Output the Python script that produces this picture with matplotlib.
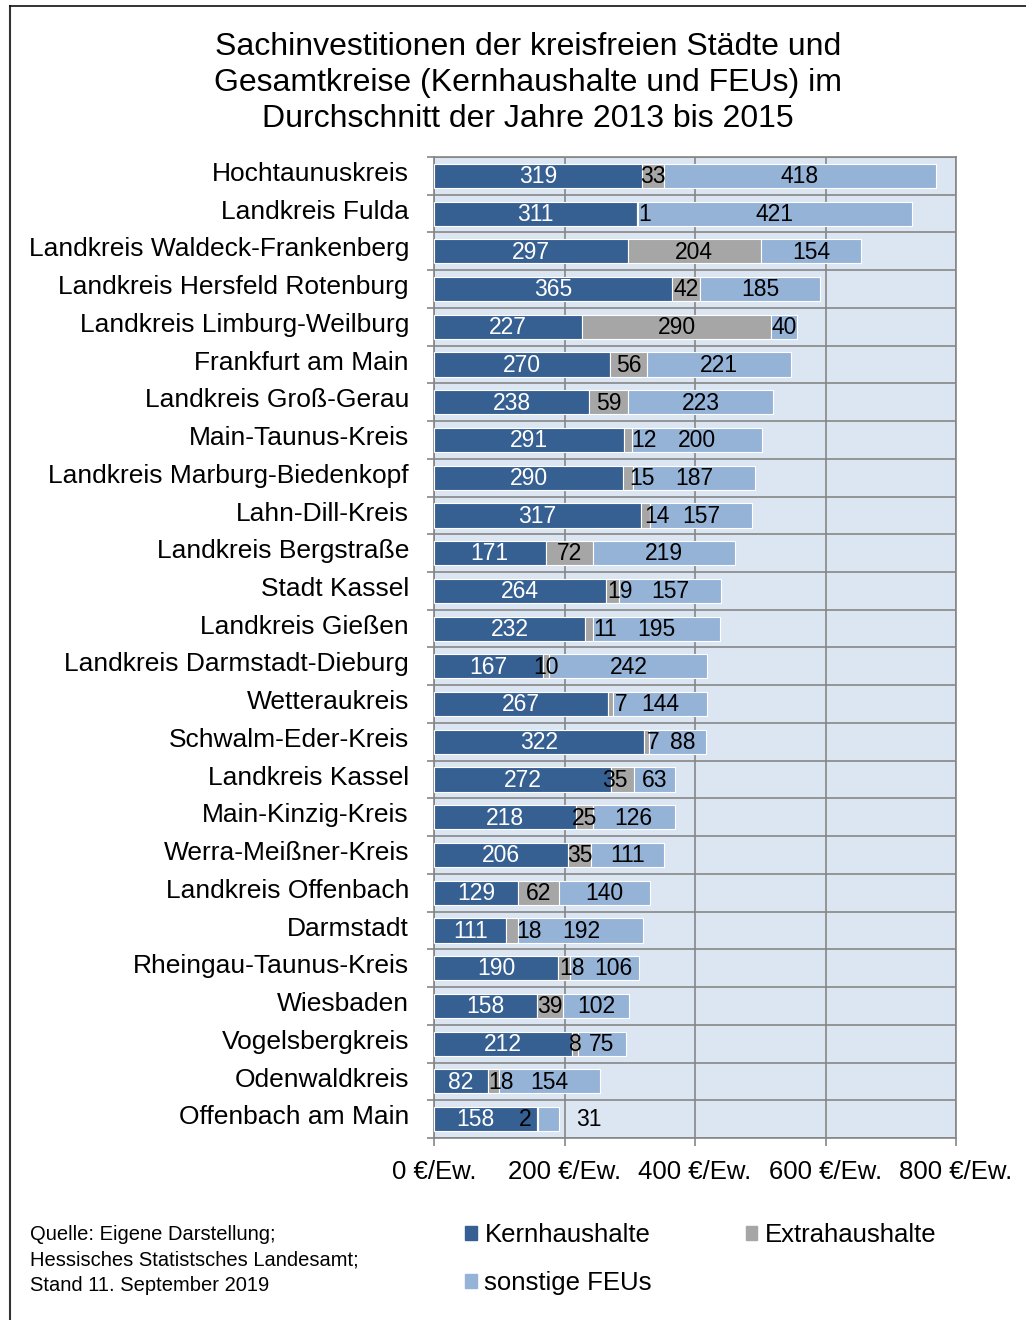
import numpy as np
import matplotlib
matplotlib.use('Agg')
import matplotlib.pyplot as plt
import matplotlib.transforms as mtransforms
from matplotlib.patches import Patch
from matplotlib.lines import Line2D

plt.rcParams['font.family'] = ['Liberation Sans', 'DejaVu Sans']

# Daten (Euro je Einwohner, Durchschnitt 2013-2015)
kreise = ['Hochtaunuskreis', 'Landkreis Fulda', 'Landkreis Waldeck-Frankenberg',
          'Landkreis Hersfeld Rotenburg', 'Landkreis Limburg-Weilburg', 'Frankfurt am Main',
          'Landkreis Groß-Gerau', 'Main-Taunus-Kreis', 'Landkreis Marburg-Biedenkopf',
          'Lahn-Dill-Kreis', 'Landkreis Bergstraße', 'Stadt Kassel', 'Landkreis Gießen',
          'Landkreis Darmstadt-Dieburg', 'Wetteraukreis', 'Schwalm-Eder-Kreis',
          'Landkreis Kassel', 'Main-Kinzig-Kreis', 'Werra-Meißner-Kreis',
          'Landkreis Offenbach', 'Darmstadt', 'Rheingau-Taunus-Kreis', 'Wiesbaden',
          'Vogelsbergkreis', 'Odenwaldkreis', 'Offenbach am Main']
kern = [319, 311, 297, 365, 227, 270, 238, 291, 290, 317, 171, 264, 232,
        167, 267, 322, 272, 218, 206, 129, 111, 190, 158, 212, 82, 158]
extra = [33, 1, 204, 42, 290, 56, 59, 12, 15, 14, 72, 19, 11,
         10, 7, 7, 35, 25, 35, 62, 18, 18, 39, 8, 18, 2]
sonst = [418, 421, 154, 185, 40, 221, 223, 200, 187, 157, 219, 157, 195,
         242, 144, 88, 63, 126, 111, 140, 192, 106, 102, 75, 154, 31]
serien = ['Kernhaushalte', 'Extrahaushalte', 'sonstige FEUs']
xticks = [0, 200, 400, 600, 800]
xticklabels = ['0 €/Ew.', '200 €/Ew.', '400 €/Ew.', '600 €/Ew.', '800 €/Ew.']

# Beschriftungen, die im Original seitlich verschoben sind (Zeile, Serie): dx
label_dx = {(1, 1): 11, (7, 1): 24, (8, 1): 22, (9, 1): 18, (11, 1): 12,
            (12, 1): 24, (14, 1): 17, (15, 1): 10, (15, 2): 8, (16, 1): -12,
            (20, 1): 26, (21, 1): 13, (21, 2): 14, (24, 1): 12,
            (25, 0): -16, (25, 1): -19, (25, 2): 62}

farben = ['#376092', '#A6A6A6', '#95B3D7']
textfarben = ['white', 'black', 'black']
gitter = '#868686'

fig = plt.figure(figsize=(10.26, 13.2), dpi=100)
ax = fig.add_axes([434/1026, 1 - 1138/1320, (956-434)/1026, (1138-157)/1320])
ax.set_facecolor('#DCE6F2')

n = len(kreise)
y = np.arange(n)
data = [np.array(kern), np.array(extra), np.array(sonst)]
left = np.zeros(n)
for i, vals in enumerate(data):
    ax.barh(y, vals, left=left, height=0.64, color=farben[i], edgecolor='white',
            linewidth=0.8, label=serien[i], zorder=3)
    for j in range(n):
        xpos = left[j] + vals[j] / 2 + label_dx.get((j, i), 0)
        ax.text(xpos, y[j] + 0.02, str(vals[j]), ha='center', va='center',
                fontsize=16.5, color=textfarben[i], zorder=4)
    left = left + vals

ax.set_xlim(0, 800)
ax.set_ylim(n - 0.5, -0.5)

ax.set_xticks(xticks)
ax.set_xticklabels(xticklabels, fontsize=18.5)
ax.tick_params(axis='x', direction='out', length=6, width=1.2, color=gitter, pad=10)

# Kategorien als Text, etwas oberhalb der Balkenmitte
ax.set_yticks(y)
ax.set_yticklabels([])
ax.tick_params(axis='y', which='major', length=0)
ax.set_yticks(np.arange(n + 1) - 0.5, minor=True)
ax.tick_params(axis='y', which='minor', direction='out', length=5, width=1.2, color=gitter)
trans = mtransforms.blended_transform_factory(ax.transAxes, ax.transData)
for j, name in enumerate(kreise):
    ax.text(-25/522, y[j] - 0.05, name, transform=trans, ha='right', va='center',
            fontsize=19)

ax.grid(axis='x', which='major', color=gitter, linewidth=1.2, zorder=1)
ax.grid(axis='y', which='minor', color=gitter, linewidth=1.2, zorder=1)
ax.set_axisbelow(True)
for s in ax.spines.values():
    s.set_color(gitter)
    s.set_linewidth(1.2)

fig.text(528/1026, 1 - 83/1320,
         'Sachinvestitionen der kreisfreien Städte und\n'
         'Gesamtkreise (Kernhaushalte und FEUs) im\n'
         'Durchschnitt der Jahre 2013 bis 2015',
         ha='center', va='center', fontsize=23, linespacing=1.27)

fig.text(30/1026, 1 - 1260/1320,
         'Quelle: Eigene Darstellung;\nHessisches Statistsches Landesamt;\nStand 11. September 2019',
         ha='left', va='center', fontsize=14.5, linespacing=1.45)

handles = [Patch(color=farben[0], label=serien[0]),
           Patch(color=farben[2], label=serien[2]),
           Patch(color=farben[1], label=serien[1])]
fig.legend(handles=handles, ncol=2, loc='center left',
           bbox_to_anchor=(442/1026, 1 - 1259/1320), frameon=False, fontsize=18.5,
           handlelength=0.45, handleheight=0.45, handletextpad=0.3,
           columnspacing=3.65, labelspacing=0.95)

# Rahmen oben und links
fig.add_artist(Line2D([10/1026, 10/1026], [0, 1 - 6/1320], color='#333333',
                      linewidth=1.5, transform=fig.transFigure))
fig.add_artist(Line2D([10/1026, 1], [1 - 6/1320, 1 - 6/1320], color='#111111',
                      linewidth=1.2, transform=fig.transFigure))

fig.savefig('out.png', dpi=100)
